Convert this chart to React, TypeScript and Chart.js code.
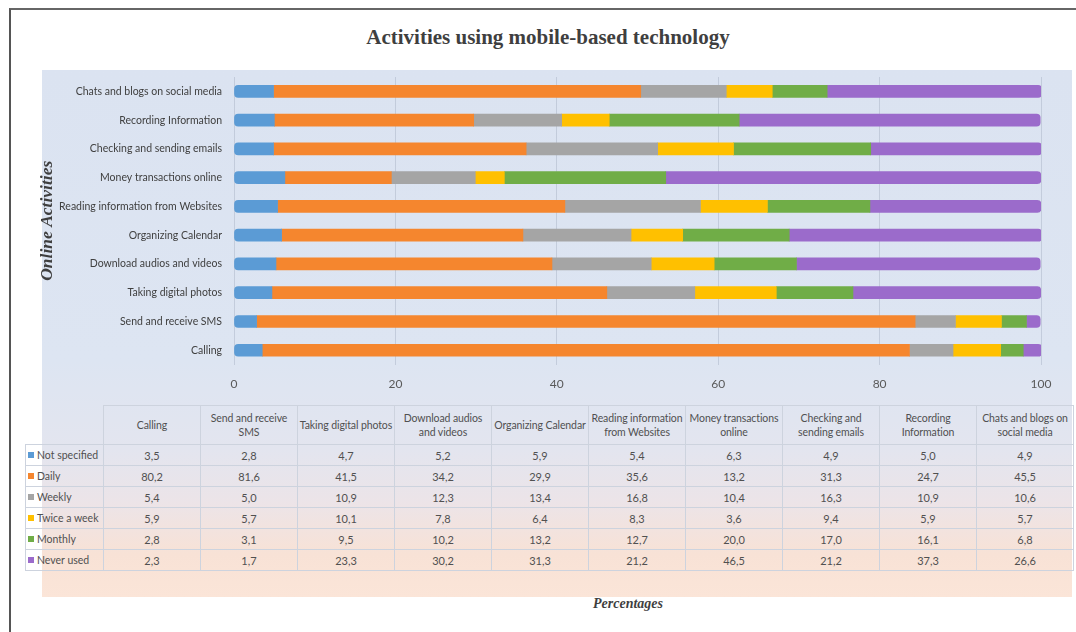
import React, { useEffect, useRef } from "react";
import { Chart, registerables } from "chart.js";

Chart.register(...registerables);

const activities = [
  "Calling",
  "Send and receive SMS",
  "Taking digital photos",
  "Download audios and videos",
  "Organizing Calendar",
  "Reading information from Websites",
  "Money transactions online",
  "Checking and sending emails",
  "Recording Information",
  "Chats and blogs on social media",
];

const notSpecified = [3.5, 2.8, 4.7, 5.2, 5.9, 5.4, 6.3, 4.9, 5.0, 4.9];
const daily = [80.2, 81.6, 41.5, 34.2, 29.9, 35.6, 13.2, 31.3, 24.7, 45.5];
const weekly = [5.4, 5.0, 10.9, 12.3, 13.4, 16.8, 10.4, 16.3, 10.9, 10.6];
const twiceAWeek = [5.9, 5.7, 10.1, 7.8, 6.4, 8.3, 3.6, 9.4, 5.9, 5.7];
const monthly = [2.8, 3.1, 9.5, 10.2, 13.2, 12.7, 20.0, 17.0, 16.1, 6.8];
const neverUsed = [2.3, 1.7, 23.3, 30.2, 31.3, 21.2, 46.5, 21.2, 37.3, 26.6];

const seriesNames = ["Not specified", "Daily", "Weekly", "Twice a week", "Monthly", "Never used"];
const seriesValues = [notSpecified, daily, weekly, twiceAWeek, monthly, neverUsed];
const seriesColors = ["#5B9BD5", "#F5862E", "#A5A5A5", "#FFC000", "#70AD47", "#9B6BCB"];

const xTicks = [0, 20, 40, 60, 80, 100];

const tableHeaders = [
  "Calling",
  "Send and receive\nSMS",
  "Taking digital photos",
  "Download audios\nand videos",
  "Organizing Calendar",
  "Reading information\nfrom Websites",
  "Money transactions\nonline",
  "Checking and\nsending emails",
  "Recording\nInformation",
  "Chats and blogs on\nsocial media",
];

const fmt = (v: number) => v.toFixed(1).replace(".", ",");

function shade(hex: string, f: number) {
  const n = parseInt(hex.slice(1), 16);
  let r = (n >> 16) & 255, g = (n >> 8) & 255, b = n & 255;
  r = Math.max(0, Math.min(255, Math.round(r * f)));
  g = Math.max(0, Math.min(255, Math.round(g * f)));
  b = Math.max(0, Math.min(255, Math.round(b * f)));
  return `rgb(${r},${g},${b})`;
}

export default function App() {
  const ref = useRef<HTMLCanvasElement | null>(null);

  useEffect(() => {
    if (!ref.current) return;
    const last = seriesValues.length - 1;
    const chart = new Chart(ref.current, {
      type: "bar",
      data: {
        labels: activities,
        datasets: seriesValues.map((vals, i) => ({
          label: seriesNames[i],
          data: vals,
          backgroundColor: (ctx: any) => {
            const el = ctx.element as any;
            const c = ctx.chart.ctx;
            if (!el || el.y === undefined || isNaN(el.y)) return seriesColors[i];
            const g = c.createLinearGradient(0, el.y - 6, 0, el.y + 6);
            g.addColorStop(0, shade(seriesColors[i], 0.85));
            g.addColorStop(0.3, shade(seriesColors[i], 1.08));
            g.addColorStop(0.7, seriesColors[i]);
            g.addColorStop(1, shade(seriesColors[i], 0.7));
            return g;
          },
          barThickness: 12,
          borderSkipped: false,
          borderRadius:
            i === 0
              ? { topLeft: 4, bottomLeft: 4, topRight: 0, bottomRight: 0 }
              : i === last
              ? { topLeft: 0, bottomLeft: 0, topRight: 4, bottomRight: 4 }
              : 0,
        })),
      },
      options: {
        indexAxis: "y",
        responsive: false,
        animation: false,
        events: [],
        layout: { padding: { left: 0, right: 35, top: 77, bottom: 0 } },
        plugins: {
          legend: { display: false },
          tooltip: { enabled: false },
          title: { display: false },
        },
        scales: {
          x: {
            stacked: true,
            min: 0,
            max: 100,
            afterBuildTicks: (scale: any) => {
              scale.ticks = xTicks.map((v) => ({ value: v }));
            },
            ticks: {
              color: "#595959",
              font: { family: "Lato, sans-serif", size: 12 },
              padding: 12,
            },
            grid: { color: "rgba(170,180,198,0.5)", drawTicks: false },
            border: { display: false },
          },
          y: {
            stacked: true,
            reverse: true,
            afterFit: (scale: any) => {
              scale.width = 214;
            },
            ticks: {
              color: "#404040",
              font: { family: "Lato, sans-serif", size: 10.5 },
              padding: 12,
            },
            grid: { display: false, drawTicks: false },
            border: { display: false },
            title: {
              display: true,
              text: "Online Activities",
              color: "#3f3f3f",
              font: { family: "'Liberation Serif', serif", size: 17.5, weight: "bold", style: "italic" },
              padding: { top: 17, bottom: 0 },
            },
          },
        },
      } as any,
    });
    return () => chart.destroy();
  }, []);

  const cellBorder = "1px solid #cdd3de";
  const font = "Lato, sans-serif";

  return (
    <div
      style={{
        position: "absolute",
        left: 0,
        top: 0,
        width: 1076,
        height: 632,
        background: "#ffffff",
        overflow: "hidden",
        fontFamily: font,
      }}
    >
      <div
        style={{
          position: "absolute",
          left: 9,
          top: 8,
          width: 1076,
          height: 640,
          borderLeft: "2px solid #555",
          borderTop: "2px solid #666",
        }}
      />
      <div
        style={{
          position: "absolute",
          left: 42,
          top: 70,
          width: 1030,
          height: 527,
          background:
            "linear-gradient(to bottom, #dbe3f1 0%, #dde5f2 55%, #e3e5ef 72%, #ece4e8 82%, #f8e2d6 92%, #fbe5d8 100%)",
        }}
      />
      <div
        style={{
          position: "absolute",
          left: 248,
          width: 600,
          top: 23,
          textAlign: "center",
          fontFamily: "'Liberation Serif', serif",
          fontWeight: "bold",
          fontSize: 21,
          lineHeight: "28px",
          color: "#3f3f3f",
        }}
      >
        Activities using mobile-based technology
      </div>
      <canvas
        ref={ref}
        width={1056}
        height={403}
        style={{ position: "absolute", left: 20, top: 0, width: 1056, height: 403 }}
      />
      <table
        style={{
          position: "absolute",
          left: 25,
          top: 405,
          borderCollapse: "collapse",
          tableLayout: "fixed",
          width: 78 + 97 * 10,
          fontSize: 11,
          color: "#505050",
          fontFamily: font,
        }}
      >
        <colgroup>
          <col style={{ width: 78 }} />
          {tableHeaders.map((h) => (
            <col key={h} style={{ width: 97 }} />
          ))}
        </colgroup>
        <thead>
          <tr style={{ height: 39 }}>
            <th style={{ border: "none" }} />
            {tableHeaders.map((h) => (
              <th
                key={h}
                style={{
                  border: cellBorder,
                  fontWeight: "normal",
                  textAlign: "center",
                  padding: 0,
                  fontSize: 10.5,
                  lineHeight: "14px",
                  whiteSpace: "pre",
                  letterSpacing: "-0.1px",
                }}
              >
                {h}
              </th>
            ))}
          </tr>
        </thead>
        <tbody>
          {seriesNames.map((name, i) => (
            <tr key={name} style={{ height: 21 }}>
              <td
                style={{
                  border: cellBorder,
                  textAlign: "left",
                  padding: "0 0 0 2px",
                  whiteSpace: "nowrap",
                  fontSize: 10.5,
                }}
              >
                <span
                  style={{
                    display: "inline-block",
                    width: 6,
                    height: 6,
                    background: seriesColors[i],
                    marginRight: 3,
                    verticalAlign: "1px",
                  }}
                />
                {name}
              </td>
              {seriesValues[i].map((v, j) => (
                <td key={j} style={{ border: cellBorder, textAlign: "center", padding: 0 }}>
                  {fmt(v)}
                </td>
              ))}
            </tr>
          ))}
        </tbody>
      </table>
      <div
        style={{
          position: "absolute",
          left: 528,
          width: 200,
          top: 596,
          textAlign: "center",
          fontFamily: "'Liberation Serif', serif",
          fontStyle: "italic",
          fontWeight: "bold",
          fontSize: 14,
          color: "#3f3f3f",
        }}
      >
        Percentages
      </div>
    </div>
  );
}
